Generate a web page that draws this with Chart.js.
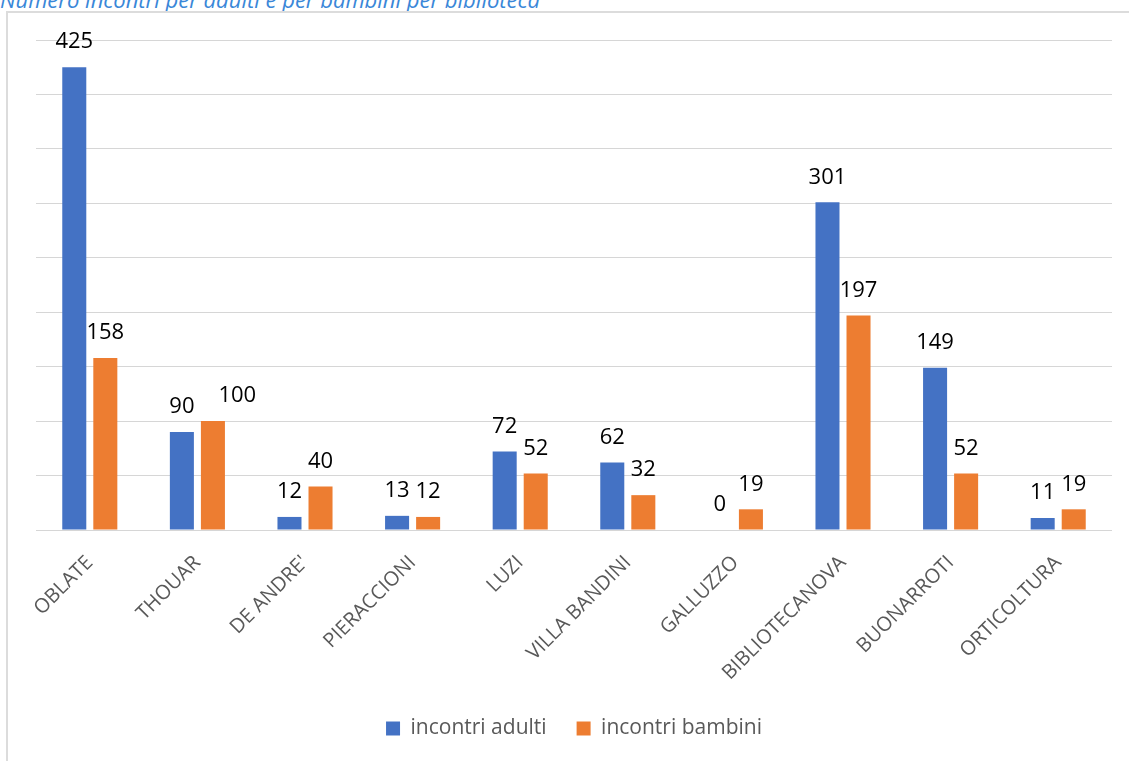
<!DOCTYPE html>
<html>
<head>
<meta charset="utf-8">
<script src="https://cdn.jsdelivr.net/npm/chart.js@4/dist/chart.umd.min.js"></script>
<style>
  html, body { margin: 0; padding: 0; background: #fff; overflow: hidden; }
  #wrap { position: relative; width: 1129px; height: 761px; }
  #caption {
    position: absolute; left: 0; top: -16px; line-height: 22px; white-space: nowrap;
    font: italic 22px "Open Sans", sans-serif; color: #3a87d8;
  }
  #frame {
    position: absolute; left: 6px; top: 11px; width: 1200px; height: 800px;
    border: 2px solid #dcdcdc; box-sizing: border-box;
  }
  #myBarChart { position: absolute; left: 0; top: 0; }
</style>
</head>
<body>
<div id="wrap">
  <div id="caption">Numero incontri per adulti e per bambini per biblioteca</div>
  <div id="frame"></div>
  <canvas id="myBarChart" width="1129" height="761"></canvas>
</div>
<script>
  const biblioteche = ['OBLATE', 'THOUAR', "DE ANDRE'", 'PIERACCIONI', 'LUZI', 'VILLA BANDINI',
                       'GALLUZZO', 'BIBLIOTECANOVA', 'BUONARROTI', 'ORTICOLTURA'];
  const incontriAdulti = [425, 90, 12, 13, 72, 62, 0, 301, 149, 11];
  const incontriBambini = [158, 100, 40, 12, 52, 32, 19, 197, 52, 19];
  const yMax = 450;
  const yStep = 50;

  // value labels above each bar, the second one nudged right if it overlaps the first
  const valueLabels = {
      id: 'valueLabels',
      afterDatasetsDraw(chart) {
          const ctx = chart.ctx;
          ctx.save();
          ctx.font = '22px "Open Sans", sans-serif';
          ctx.fillStyle = '#000';
          ctx.textAlign = 'center';
          ctx.textBaseline = 'middle';
          const h = 18;
          const a = chart.getDatasetMeta(0).data;
          const b = chart.getDatasetMeta(1).data;
          biblioteche.forEach((_, j) => {
              const t1 = String(incontriAdulti[j]), t2 = String(incontriBambini[j]);
              const w1 = ctx.measureText(t1).width, w2 = ctx.measureText(t2).width;
              const y1 = a[j].y - 25, y2 = b[j].y - 25;
              let x2 = b[j].x;
              const right1 = a[j].x + w1 / 2;
              if (Math.abs(y1 - y2) < h && x2 - w2 / 2 < right1) {
                  x2 = right1 + 24 + w2 / 2;
              }
              ctx.fillText(t1, a[j].x, y1);
              ctx.fillText(t2, x2, y2);
          });
          ctx.restore();
      }
  };

  const ctx = document.getElementById('myBarChart').getContext('2d');

  new Chart(ctx, {
      type: 'bar',
      data: {
          labels: biblioteche,
          datasets: [{
              label: 'incontri adulti',
              data: incontriAdulti,
              backgroundColor: '#4472C4'
          }, {
              label: 'incontri bambini',
              data: incontriBambini,
              backgroundColor: '#ED7D31'
          }]
      },
      options: {
          responsive: false,
          animation: false,
          categoryPercentage: 0.577,
          barPercentage: 0.774,
          layout: {
              padding: { left: 36, right: 17, top: 40, bottom: 12 }
          },
          scales: {
              x: {
                  grid: { display: false, drawTicks: false },
                  border: { display: false },
                  ticks: {
                      autoSkip: false,
                      minRotation: 45,
                      maxRotation: 45,
                      padding: 21,
                      color: '#595959',
                      font: { family: '"Open Sans", sans-serif', size: 20 }
                  },
                  afterFit: (scale) => { scale.height = 158; }
              },
              y: {
                  min: 0,
                  max: yMax,
                  ticks: { display: false, stepSize: yStep },
                  grid: { color: '#d6d6d6', lineWidth: 1, drawTicks: false },
                  border: { display: false }
              }
          },
          plugins: {
              legend: {
                  position: 'bottom',
                  labels: {
                      boxWidth: 14,
                      boxHeight: 14,
                      padding: 30,
                      color: '#595959',
                      font: { family: '"Open Sans", sans-serif', size: 21 }
                  }
              },
              tooltip: { enabled: false }
          }
      },
      plugins: [valueLabels]
  });
</script>
</body>
</html>
